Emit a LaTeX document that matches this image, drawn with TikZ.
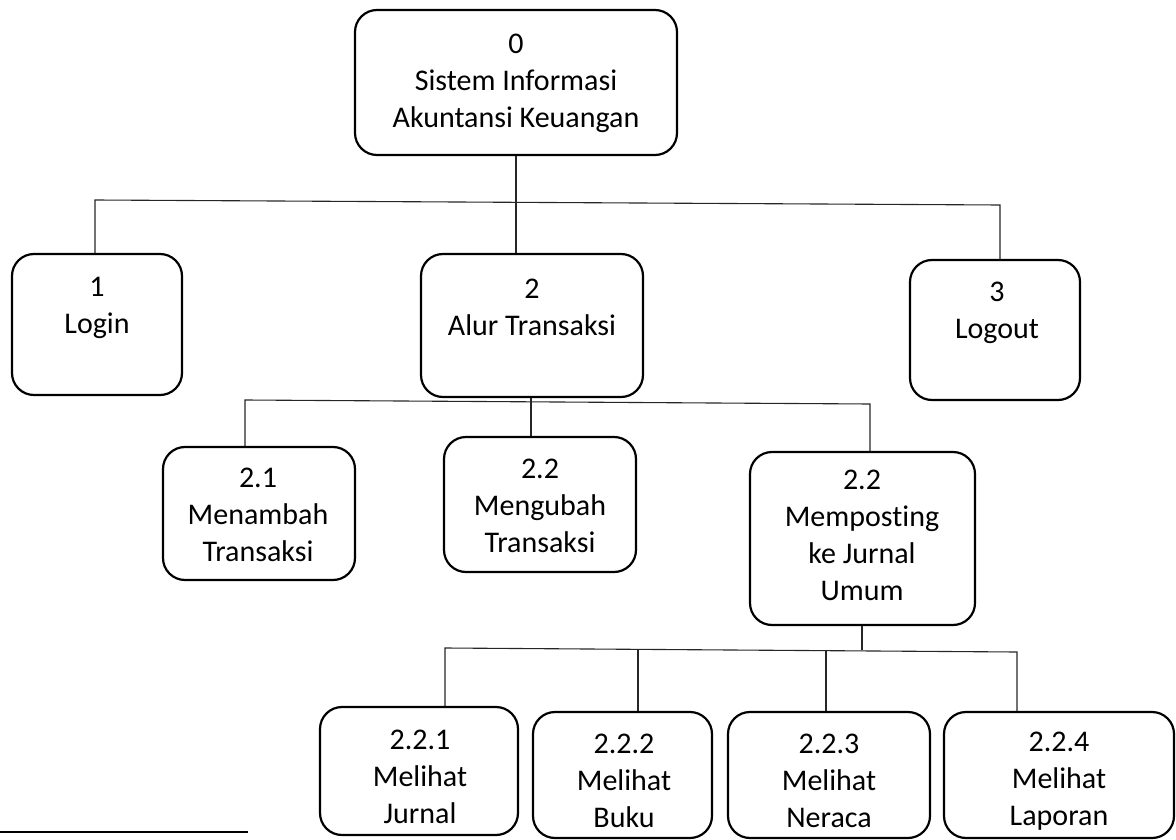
\documentclass[tikz,border=0pt]{standalone}
\usepackage{fontspec}
\setmainfont{Carlito}[Ligatures=NoCommon]
\begin{document}
\begin{tikzpicture}[x=1pt,y=-1pt,
  box/.style={draw=black, line width=2.2pt, rounded corners=22pt, inner sep=0pt},
  lbl/.style={align=center, font=\fontsize{30}{37}\selectfont, inner sep=0pt},
  conn/.style={draw=black!85, line width=1.1pt}]
\useasboundingbox (0,0) rectangle (1176,840);
% boxes
\node[box, minimum width=322pt, minimum height=145pt] (n0) at (516,82.5) {};
\node[box, minimum width=170pt, minimum height=141pt] (n1) at (97,324.5) {};
\node[box, minimum width=222pt, minimum height=143pt] (n2) at (532,325.5) {};
\node[box, minimum width=170pt, minimum height=140pt] (n3) at (995,330) {};
\node[box, minimum width=192pt, minimum height=133pt] (n21) at (259,513.5) {};
\node[box, minimum width=192pt, minimum height=135pt] (n22) at (540,504.5) {};
\node[box, minimum width=225pt, minimum height=173pt] (n23) at (862.5,538.5) {};
\node[box, minimum width=198pt, minimum height=128pt] (n221) at (419,771) {};
\node[box, minimum width=179pt, minimum height=126pt] (n222) at (622.5,775) {};
\node[box, minimum width=202pt, minimum height=126pt] (n223) at (829,775) {};
\node[box, minimum width=230pt, minimum height=126pt] (n224) at (1059,775) {};
% texts
\node[lbl] (t0) at (516,83) {0\\Sistem Informasi\\Akuntansi Keuangan};
\node[lbl] (t1) at (97,308) {1\\Login};
\node[lbl] (t2) at (532,307) {2\\Alur Transaksi};
\node[lbl] (t3) at (997,313) {3\\Logout};
\node[lbl] (t21) at (258,515) {2.1\\Menambah\\Transaksi};
\node[lbl] (t22) at (540,506) {2.2\\Mengubah\\Transaksi};
\node[lbl] (t23) at (862,535) {2.2\\Memposting\\ke Jurnal\\Umum};
\node[lbl] (t221) at (420,777) {2.2.1\\Melihat\\Jurnal};
\node[lbl] (t222) at (624,781) {2.2.2\\Melihat\\Buku};
\node[lbl] (t223) at (829,781) {2.2.3\\Melihat\\Neraca};
\node[lbl] (t224) at (1059,781) {2.2.4\\Melihat\\Laporan};
% bus coordinates
\coordinate (b1l) at (95,200);
\coordinate (b1r) at (1000,205);
\coordinate (b2l) at (245,400);
\coordinate (b2r) at (870,404);
\coordinate (b3l) at (445,648);
\coordinate (b3r) at (1017,652);
\coordinate (v0) at (516,200);
\coordinate (v2) at (531,400);
\coordinate (v3) at (862,650);
\coordinate (c222) at (638,650);
\coordinate (c223) at (826,651);
% connectors
\draw[conn] (n0.south -| v0) -- (v0 |- n2.north);
\draw[conn] (b1l |- n1.north) -- (b1l) -- (b1r) -- (b1r |- n3.north);
\draw[conn] (n2.south -| v2) -- (v2 |- n22.north);
\draw[conn] (b2l |- n21.north) -- (b2l) -- (b2r) -- (b2r |- n23.north);
\draw[conn] (n23.south -| v3) -- (v3);
\draw[conn] (b3l |- n221.north) -- (b3l) -- (b3r) -- (b3r |- n224.north);
\draw[conn] (c222) -- (c222 |- n222.north);
\draw[conn] (c223) -- (c223 |- n223.north);
% stray rule
\draw[line width=2.5pt] (0,832) -- (248,832);
\end{tikzpicture}
\end{document}
